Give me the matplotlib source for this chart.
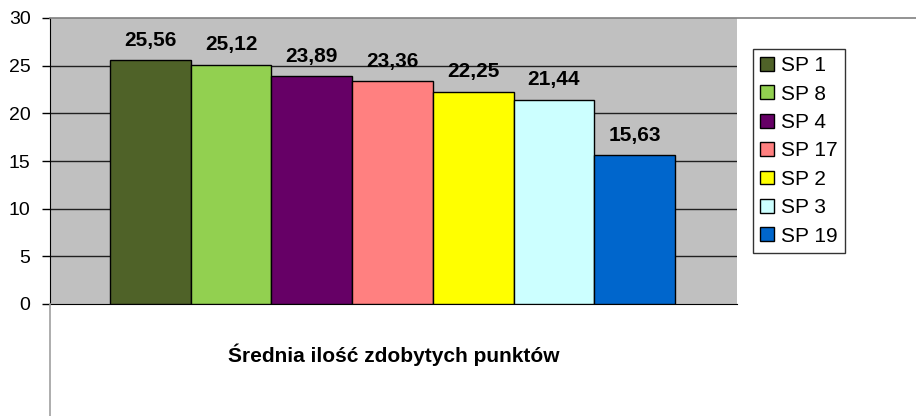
import matplotlib.pyplot as plt
from matplotlib.lines import Line2D
from matplotlib.patches import Patch

plt.rcParams['font.family'] = ['Liberation Sans', 'DejaVu Sans']

schools = ['SP 1', 'SP 8', 'SP 4', 'SP 17', 'SP 2', 'SP 3', 'SP 19']
scores = [25.56, 25.12, 23.89, 23.36, 22.25, 21.44, 15.63]
labels = ['25,56', '25,12', '23,89', '23,36', '22,25', '21,44', '15,63']
colors = ['#4F6228', '#92D050', '#660066', '#FF8080', '#FFFF00', '#CCFFFF', '#0066CC']
yticks = [0, 5, 10, 15, 20, 25, 30]

W, H = 916, 416
fig = plt.figure(figsize=(W / 100, H / 100), dpi=100)
left, right, top, bottom = 50, 737, 18, 304
ax = fig.add_axes([left / W, 1 - bottom / H, (right - left) / W, (bottom - top) / H])
ax.set_facecolor('#C0C0C0')

# bar group spans pixels 110..675 inside the 50..737 plot area
n = len(schools)
unit = (675 - 110) / n
x0 = (110 - left) / unit
xmax = (right - left) / unit
for i, (v, c, lab) in enumerate(zip(scores, colors, labels)):
    ax.bar(x0 + i + 0.5, v, width=1.0, color=c, edgecolor='black', linewidth=1, zorder=3)
    ax.annotate(lab, (x0 + i + 0.5, v), xytext=(0, 7.5), textcoords='offset points',
                ha='center', va='bottom', fontsize=15, fontweight='bold', zorder=4)

ax.set_xlim(0, xmax)
ax.set_ylim(0, 30)
ax.set_yticks(yticks)
ax.set_yticklabels([str(t) for t in yticks], fontsize=14)
ax.set_xticks([])
for t in yticks[1:-1]:
    ax.axhline(t, color='#202020', linewidth=1, zorder=1)
for s in ['top', 'right']:
    ax.spines[s].set_visible(False)
ax.spines['left'].set_color('black')
ax.spines['bottom'].set_color('black')
ax.tick_params(axis='y', length=6, width=1, pad=8)

fig.text((left + right) / 2 / W, 1 - 355 / H, 'Średnia ilość zdobytych punktów',
         ha='center', va='center', fontsize=15, fontweight='bold')

# outer chart frame lines
fig.add_artist(Line2D([left / W, 1], [1 - top / H, 1 - top / H], color='#808080', linewidth=1.2))
fig.add_artist(Line2D([left / W, left / W], [0, 1 - bottom / H], color='#A0A0A0', linewidth=1.2))

handles = [Patch(facecolor=c, edgecolor='black', label=s) for s, c in zip(schools, colors)]
leg = fig.legend(handles=handles, loc='upper left',
                 bbox_to_anchor=(753 / W, 1 - 49 / H), frameon=True, fancybox=False,
                 fontsize=15, handlelength=0.65, handleheight=0.65, handletextpad=0.35,
                 labelspacing=0.45, borderpad=0.35, borderaxespad=0)
leg.get_frame().set_edgecolor('black')
leg.get_frame().set_linewidth(1)

fig.savefig('out.png', dpi=100)
